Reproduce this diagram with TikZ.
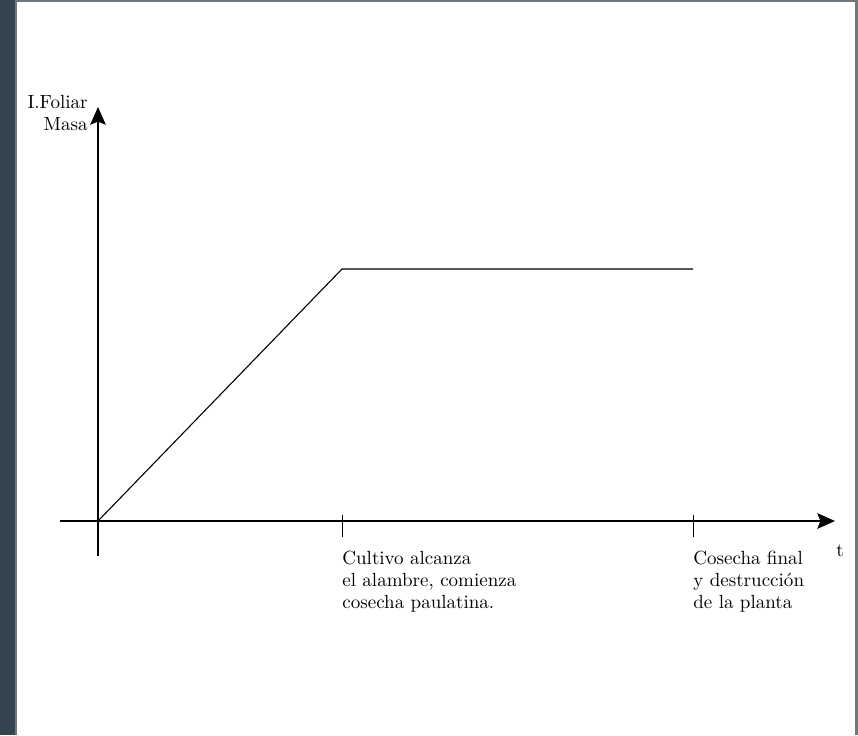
\documentclass[tikz,border=0pt]{standalone}
\usepackage{tikz}
\usetikzlibrary{arrows.meta}
\usetikzlibrary{positioning}
\definecolor{framedark}{RGB}{52,69,79}
\definecolor{framegray}{RGB}{110,120,126}
\tikzset{
  axis/.style={thick,-{Stealth[length=3.4mm,width=3mm,inset=0.6mm]}},
  tick/.style={line width=0.5pt},
  lbl/.style={anchor=north west,align=left,inner sep=0pt,font=\fontsize{10.4}{12}\selectfont}
}
\begin{document}
\begin{tikzpicture}[line cap=butt,line join=round,x=0.0192cm,y=0.0192cm]
\useasboundingbox (0,0) rectangle (858,735);
% page frame of the viewer
\fill[white] (0,0) rectangle (858,735);
\fill[framedark] (0,0) rectangle (15,735);
\fill[framegray] (15,0) rectangle (16.5,735);
\fill[framegray] (15,733) rectangle (858,735);
\fill[framegray] (854.5,0) rectangle (858,735);
% axes
\coordinate (O) at (98,214);
\coordinate (xs) at (60,214);
\coordinate (xe) at (835,214);
\coordinate (ys) at (98,179);
\coordinate (ye) at (98,628);
\draw[axis] (xs) -- (xe);
\draw[axis] (ys) -- (ye);
\node[anchor=center,font=\fontsize{10.4}{12}\selectfont] (t) at (840,184) {t};
\node[anchor=north east,align=right,inner sep=0pt,font=\fontsize{10.4}{12}\selectfont] (ylab) at (88,640) {I.Foliar\\Masa};
% curve
\coordinate (A) at (342,466);
\coordinate (B) at (693,466);
\draw[line width=0.6pt] (O) -- (A) -- (B);
% ticks
\foreach \x/\n in {342/ta,693/tb}{
  \coordinate (\n up) at (\x,220);
  \coordinate (\n dn) at (\x,198);
  \draw[tick] (\n up) -- (\n dn);
}
\node[lbl] (l1) at (342,184) {Cultivo alcanza\\el alambre, comienza\\cosecha paulatina.};
\node[lbl] (l2) at (693,184) {Cosecha final\\y destrucción\\de la planta};
\end{tikzpicture}
\end{document}
